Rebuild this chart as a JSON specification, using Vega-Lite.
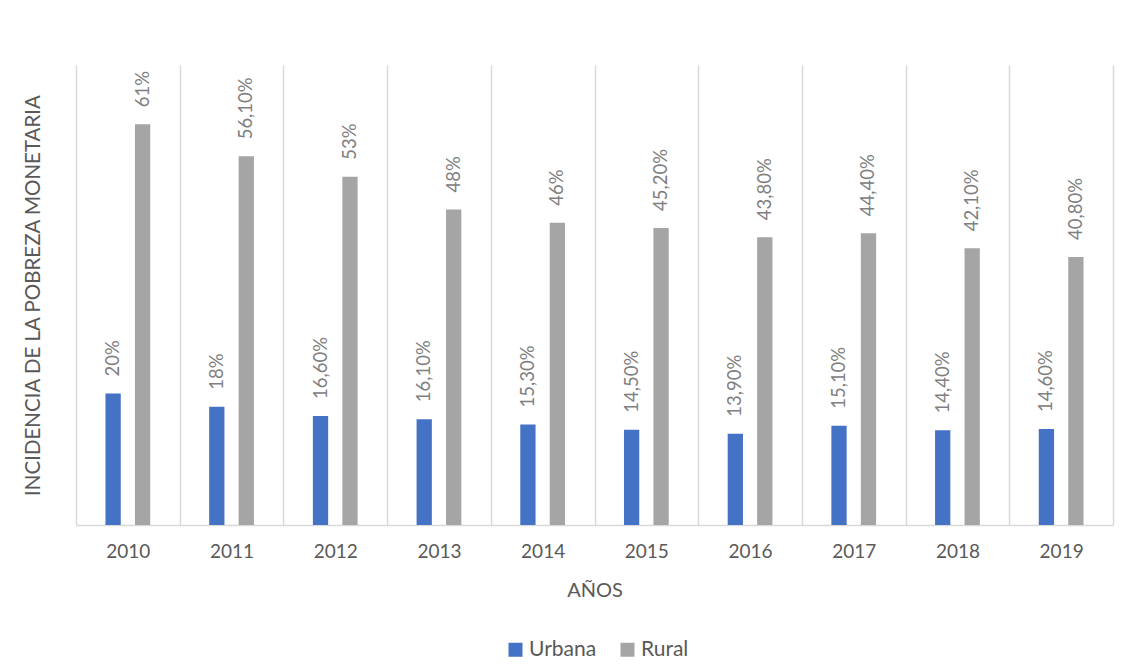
{
  "$schema": "https://vega.github.io/schema/vega-lite/v6.json",
  "width": 1037,
  "height": 460,
  "autosize": "none",
  "padding": {"left": 76, "top": 65, "right": 19, "bottom": 143},
  "background": "white",
  "config": {"font": "Lato", "view": {"stroke": null}},
  "data": {
    "values": [
      {"year": "2010", "series": "Urbana", "value": 20, "label": "20%"},
      {"year": "2010", "series": "Rural", "value": 61, "label": "61%"},
      {"year": "2011", "series": "Urbana", "value": 18, "label": "18%"},
      {"year": "2011", "series": "Rural", "value": 56.1, "label": "56,10%"},
      {"year": "2012", "series": "Urbana", "value": 16.6, "label": "16,60%"},
      {"year": "2012", "series": "Rural", "value": 53, "label": "53%"},
      {"year": "2013", "series": "Urbana", "value": 16.1, "label": "16,10%"},
      {"year": "2013", "series": "Rural", "value": 48, "label": "48%"},
      {"year": "2014", "series": "Urbana", "value": 15.3, "label": "15,30%"},
      {"year": "2014", "series": "Rural", "value": 46, "label": "46%"},
      {"year": "2015", "series": "Urbana", "value": 14.5, "label": "14,50%"},
      {"year": "2015", "series": "Rural", "value": 45.2, "label": "45,20%"},
      {"year": "2016", "series": "Urbana", "value": 13.9, "label": "13,90%"},
      {"year": "2016", "series": "Rural", "value": 43.8, "label": "43,80%"},
      {"year": "2017", "series": "Urbana", "value": 15.1, "label": "15,10%"},
      {"year": "2017", "series": "Rural", "value": 44.4, "label": "44,40%"},
      {"year": "2018", "series": "Urbana", "value": 14.4, "label": "14,40%"},
      {"year": "2018", "series": "Rural", "value": 42.1, "label": "42,10%"},
      {"year": "2019", "series": "Urbana", "value": 14.6, "label": "14,60%"},
      {"year": "2019", "series": "Rural", "value": 40.8, "label": "40,80%"}
    ]
  },
  "encoding": {
    "x": {
      "field": "year",
      "type": "ordinal",
      "scale": {"paddingInner": 0, "paddingOuter": 0},
      "axis": {
        "title": "AÑOS",
        "labelAngle": 0,
        "ticks": false,
        "grid": true,
        "tickBand": "extent",
        "gridColor": "#d9d9d9",
        "gridWidth": 1.5,
        "domainColor": "#d9d9d9",
        "domainWidth": 1.5,
        "labelFont": "Lato",
        "labelFontSize": 19,
        "labelColor": "#595959",
        "labelPadding": 17,
        "titleFont": "Lato",
        "titleFontSize": 20,
        "titleFontWeight": "normal",
        "titleColor": "#595959",
        "titleY": 65,
        "titleBaseline": "middle"
      }
    },
    "xOffset": {
      "field": "series",
      "type": "nominal",
      "sort": ["Urbana", "Rural"],
      "scale": {"paddingInner": 0.4815, "paddingOuter": 1.161}
    },
    "y": {
      "field": "value",
      "type": "quantitative",
      "scale": {"domain": [0, 70]},
      "axis": {
        "domain": false,
        "ticks": false,
        "labels": false,
        "grid": false,
        "title": "INCIDENCIA DE LA POBREZA MONETARIA",
        "titleFont": "Lato",
        "titleFontSize": 20.5,
        "titleFontWeight": "normal",
        "titleColor": "#595959",
        "titleX": -43,
        "titleY": 230,
        "titleAngle": -90,
        "titleAlign": "center",
        "titleBaseline": "middle"
      }
    }
  },
  "layer": [
    {
      "mark": {"type": "bar"},
      "encoding": {
        "color": {
          "field": "series",
          "type": "nominal",
          "scale": {"domain": ["Urbana", "Rural"], "range": ["#4472C4", "#A5A5A5"]},
          "legend": {
            "title": null,
            "orient": "none",
            "direction": "horizontal",
            "legendX": 429,
            "legendY": 574,
            "symbolType": "square",
            "symbolSize": 196,
            "symbolStrokeWidth": 0,
            "symbolOpacity": 1,
            "labelFont": "Lato",
            "labelFontSize": 21,
            "labelColor": "#595959",
            "labelOffset": 3,
            "columnPadding": 20
          }
        }
      }
    },
    {
      "mark": {
        "type": "text",
        "angle": -90,
        "align": "left",
        "baseline": "middle",
        "dx": 17,
        "font": "Lato",
        "fontSize": 18.5,
        "color": "#808080"
      },
      "encoding": {"text": {"field": "label", "type": "nominal"}}
    }
  ]
}
